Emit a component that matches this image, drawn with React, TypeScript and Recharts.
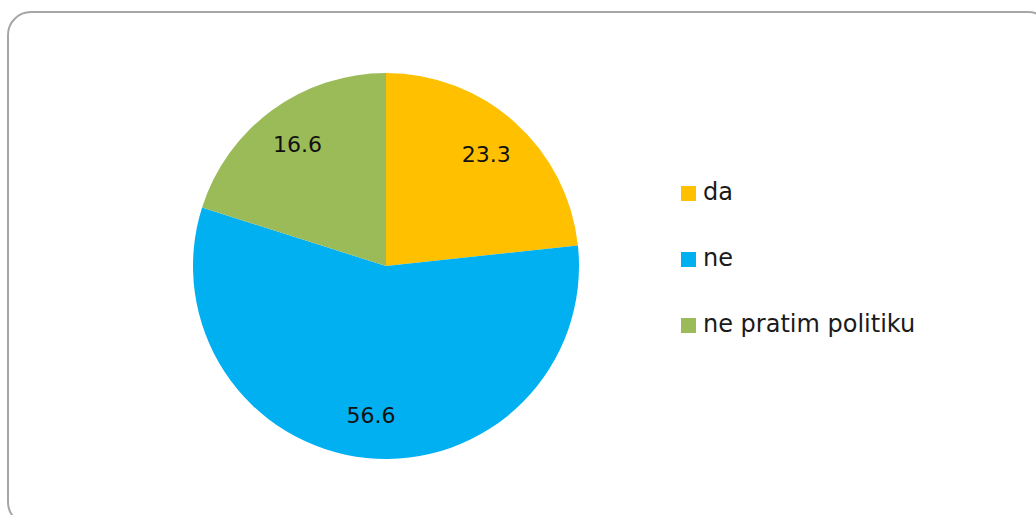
import { PieChart, Pie, Cell, Legend } from "recharts"

const categories = ["da", "ne", "ne pratim politiku"]
// slice sizes as drawn in the picture (the green slice covers ~20% of the pie)
const sliceValues = [23.3, 56.6, 20.1]
// data labels as printed on the slices
const labelTexts = ["23.3", "56.6", "16.6"]
const colors = ["#FFC000", "#00B0F0", "#9BBB59"]

const data = categories.map((name, i) => ({ name, value: sliceValues[i], label: labelTexts[i] }))

const RADIAN = Math.PI / 180
const FONT = "'DejaVu Sans', sans-serif"

const renderLabel = (props: any) => {
  const { cx, cy, midAngle, index } = props
  const r = 150
  const x = cx + r * Math.cos(-midAngle * RADIAN)
  const y = cy + r * Math.sin(-midAngle * RADIAN)
  return (
    <text
      x={x}
      y={y}
      fill="#111"
      fontSize={22}
      fontFamily={FONT}
      textAnchor="middle"
      dominantBaseline="central"
    >
      {labelTexts[index]}
    </text>
  )
}

const renderLegend = () => (
  <div style={{ fontFamily: FONT, fontSize: 24, color: "#1a1a1a" }}>
    {categories.map((name, i) => (
      <div key={name} style={{ display: "flex", alignItems: "center", height: 66 }}>
        <span
          style={{
            display: "inline-block",
            width: 15,
            height: 15,
            background: colors[i],
            marginRight: 7,
            marginTop: 3,
          }}
        />
        <span>{name}</span>
      </div>
    ))}
  </div>
)

export default function App() {
  return (
    <div
      style={{
        position: "fixed",
        left: 0,
        top: 0,
        width: 1036,
        height: 515,
        overflow: "hidden",
        background: "#fff",
      }}
    >
      <div
        style={{
          position: "absolute",
          left: 7,
          top: 11,
          width: 1045,
          height: 515,
          border: "2px solid #a6a6a6",
          borderRadius: 24,
          boxSizing: "border-box",
        }}
      />
      <div style={{ position: "absolute", left: 0, top: 0 }}>
        <PieChart width={1036} height={515} margin={{ top: 0, right: 0, bottom: 0, left: 0 }}>
          <Pie
            data={data}
            dataKey="value"
            nameKey="name"
            cx={386}
            cy={266}
            outerRadius={193}
            startAngle={90}
            endAngle={-270}
            stroke="none"
            label={renderLabel}
            labelLine={false}
            isAnimationActive={false}
          >
            {data.map((d, i) => (
              <Cell key={d.name} fill={colors[i]} />
            ))}
          </Pie>
          <Legend
            content={renderLegend}
            layout="vertical"
            verticalAlign="middle"
            align="right"
            wrapperStyle={{ left: 681, top: 159, width: 330 }}
          />
        </PieChart>
      </div>
    </div>
  )
}
